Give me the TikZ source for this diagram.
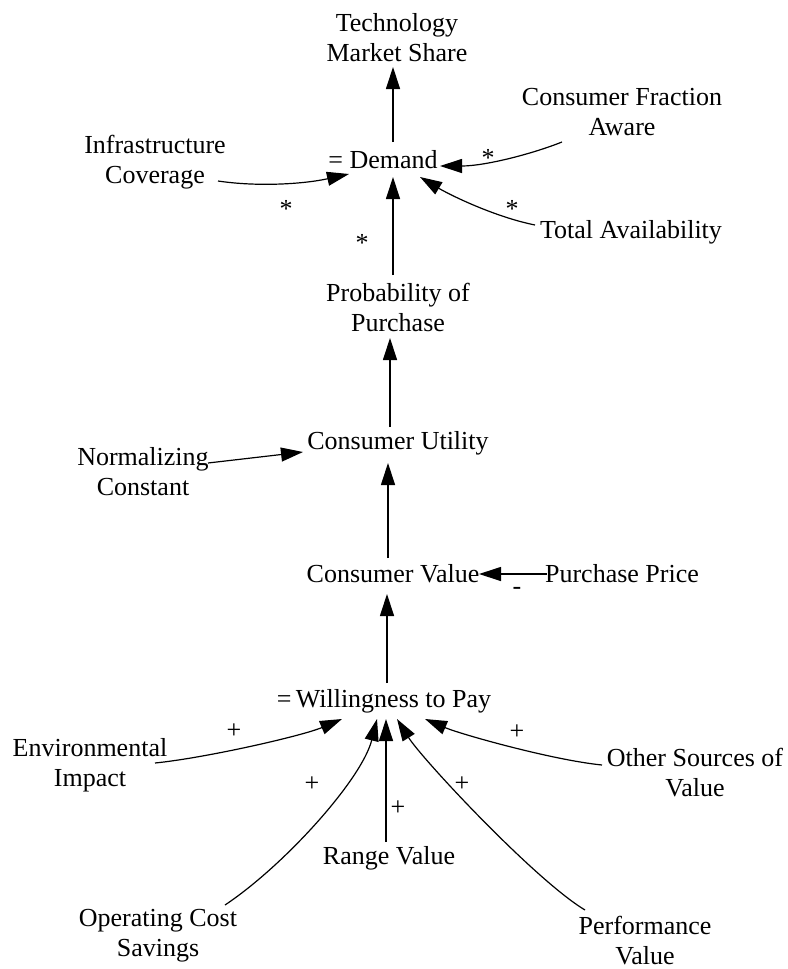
\documentclass[tikz,border=0pt]{standalone}
\usepackage{fontspec}
\setmainfont{Liberation Serif}
\usetikzlibrary{arrows.meta,calc}

\tikzset{
  var/.style={inner sep=0pt, align=center, font=\fontsize{26}{30}\selectfont},
  sign/.style={inner sep=0pt, font=\fontsize{26}{30}\selectfont},
  conn/.style={line width=1.2pt, -{Triangle[length=22pt,width=14pt]}}
}

\begin{document}
\begin{tikzpicture}[x=1pt,y=-1pt]
  \useasboundingbox (0,0) rectangle (787,969);

  % variables
  \node[var] (tms)   at (397,38)  {Technology\\Market Share};
  \node[var] (dem)   at (383,160) {= Demand};
  \node[var] (cfa)   at (622,112) {Consumer Fraction\\Aware};
  \node[var] (infra) at (155,162) {Infrastructure\\Coverage};
  \node[var] (total) at (631,232) {Total Availability};
  \node[var] (prob)  at (398,307) {Probability of\\Purchase};
  \node[var] (cu)    at (398,443) {Consumer Utility};
  \node[var] (norm)  at (143,472) {Normalizing\\Constant};
  \node[var] (cv)    at (393,574) {Consumer Value};
  \node[var] (pp)    at (622,574) {Purchase Price};
  \node[var] (wtp)   at (384,701) {=\,Willingness to Pay};
  \node[var] (env)   at (90,765)  {Environmental\\Impact};
  \node[var] (ocs)   at (158,936) {Operating Cost\\Savings};
  \node[var] (range) at (389,858) {Range Value};
  \node[var] (other) at (695,773) {Other Sources of\\Value};
  \node[var] (perf)  at (645,941) {Performance\\Value};

  % links into Demand
  \draw[conn] ($(dem)+(10,-18)$) -- ($(tms)+(-4,29)$);
  \draw[conn] ($(cfa)+(-60,30)$) .. controls +(-30,12) and +(45,0) .. ($(dem)+(57,6)$);
  \draw[conn] ($(infra)+(63,19)$) .. controls +(40,6) and +(-45,10) .. ($(dem)+(-34,14)$);
  \draw[conn] ($(total)+(-96,-7)$) .. controls +(-40,-8) and +(30,18) .. ($(dem)+(37,17)$);
  \draw[conn] ($(prob)+(-5,-32)$) -- ($(dem)+(10,17)$);

  % utility chain
  \draw[conn] ($(cu)+(-8,-16)$) -- ($(prob)+(-8,31)$);
  \draw[conn] ($(norm)+(65,-9)$) -- ($(cu)+(-95,9)$);
  \draw[conn] ($(cv)+(-5,-16)$) -- ($(cu)+(-10,20)$);
  \draw[conn] ($(pp)+(-75,0)$) -- ($(cv)+(86,0)$);
  \draw[conn] ($(wtp)+(3,-18)$) -- ($(cv)+(-6,20)$);

  % sources of willingness to pay
  \draw[conn] ($(env)+(65,-2)$) .. controls +(50,-5) and +(-40,17) .. ($(wtp)+(-42,18)$);
  \draw[conn] ($(ocs)+(67,-31)$) .. controls +(60,-40) and +(-15,60) .. ($(wtp)+(-7,18)$);
  \draw[conn] ($(range)+(-3,-16)$) -- ($(wtp)+(2,18)$);
  \draw[conn] ($(perf)+(-60,-31)$) .. controls +(-50,-30) and +(25,40) .. ($(wtp)+(13,18)$);
  \draw[conn] ($(other)+(-93,-8)$) .. controls +(-50,-5) and +(35,15) .. ($(wtp)+(41,18)$);

  % polarity marks
  \node[sign] (m1) at (488,158) {*};
  \node[sign] (m2) at (286,209) {*};
  \node[sign] (m3) at (512,209) {*};
  \node[sign] (m4) at (362,243) {*};
  \node[sign] (m5) at (517,591) {-};
  \node[sign] (p1) at (234,731) {+};
  \node[sign] (p2) at (312,784) {+};
  \node[sign] (p3) at (398,808) {+};
  \node[sign] (p4) at (462,784) {+};
  \node[sign] (p5) at (517,732) {+};
\end{tikzpicture}
\end{document}
